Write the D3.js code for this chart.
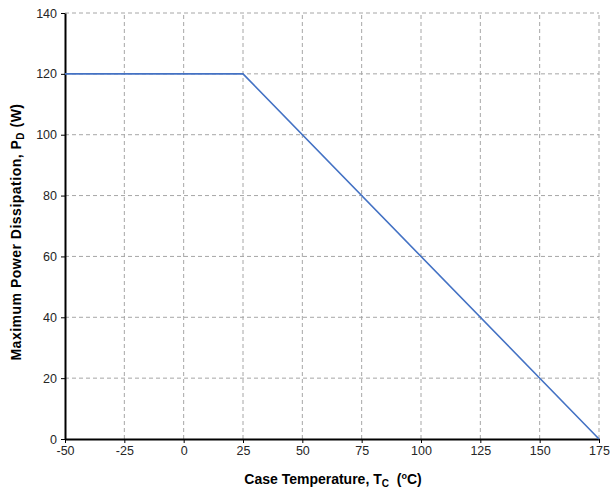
<!DOCTYPE html>
<html><head><meta charset="utf-8">
<script src="https://cdn.jsdelivr.net/npm/d3@7"></script>
<style>body{margin:0;background:#fff;}svg{display:block;font-family:"Liberation Sans",Arial,sans-serif;}</style>
</head><body>
<svg id="c" width="611" height="494"></svg>
<script>
const temps = [-50, 25, 175];
const power = [120, 120, 0];
const xTicks = [-50,-25,0,25,50,75,100,125,150,175];
const yTicks = [0,20,40,60,80,100,120,140];

const svg = d3.select("#c");
const x = d3.scaleLinear().domain([-50,175]).range([65, 599]);
const y = d3.scaleLinear().domain([0,140]).range([439, 13]);
const fmt = d => String(d);

const g = svg.append("g");
g.selectAll(".vg").data(xTicks.slice(1)).join("line")
  .attr("x1",d=>x(d)).attr("x2",d=>x(d)).attr("y1",y(0)).attr("y2",y(140))
  .attr("stroke","#a6a6a6").attr("stroke-width",1).attr("stroke-dasharray","4,3");
g.selectAll(".hg").data(yTicks.slice(1)).join("line")
  .attr("x1",x(-50)).attr("x2",x(175)).attr("y1",d=>y(d)).attr("y2",d=>y(d))
  .attr("stroke","#a6a6a6").attr("stroke-width",1).attr("stroke-dasharray","4,3");

const xa = svg.append("g").attr("transform",`translate(0,${y(0)})`)
  .call(d3.axisBottom(x).tickValues(xTicks).tickFormat(fmt).tickSize(4).tickPadding(3).tickSizeOuter(0));
const ya = svg.append("g").attr("transform",`translate(${x(-50)},0)`)
  .call(d3.axisLeft(y).tickValues(yTicks).tickFormat(fmt).tickSize(4).tickPadding(4).tickSizeOuter(0));
[xa,ya].forEach(a=>{
  a.select(".domain").attr("stroke","#000").attr("stroke-width",2);
  a.selectAll(".tick line").attr("stroke","#000").attr("stroke-width",1);
  a.selectAll(".tick text").attr("fill","#262626").style("font-size","12.5px").style("font-family","'Liberation Sans',Arial,sans-serif");
});

svg.append("path").datum(temps.map((t,i)=>[t,power[i]]))
  .attr("fill","none").attr("stroke","#4472c4").attr("stroke-width",1.6)
  .attr("d", d3.line().x(d=>x(d[0])).y(d=>y(d[1])));

const xt = svg.append("text").attr("x",333).attr("y",484)
  .attr("text-anchor","middle").style("font-size","14px").style("font-weight","bold").attr("fill","#000");
xt.append("tspan").text("Case Temperature, T");
xt.append("tspan").attr("dy",3).style("font-size","10px").text("C");
xt.append("tspan").attr("dy",-3).text("\u00a0\u00a0(");
xt.append("tspan").attr("dy",-5).style("font-size","9px").text("o");
xt.append("tspan").attr("dy",5).text("C)");

const yt = svg.append("text").attr("transform",`translate(21,232) rotate(-90)`)
  .attr("text-anchor","middle").style("font-size","14px").style("font-weight","bold")
  .style("letter-spacing","0.5px").attr("fill","#000");
yt.append("tspan").text("Maximum Power Dissipation, P");
yt.append("tspan").attr("dy",3).style("font-size","10px").text("D");
yt.append("tspan").attr("dy",-3).text(" (W)");
</script>
</body></html>
